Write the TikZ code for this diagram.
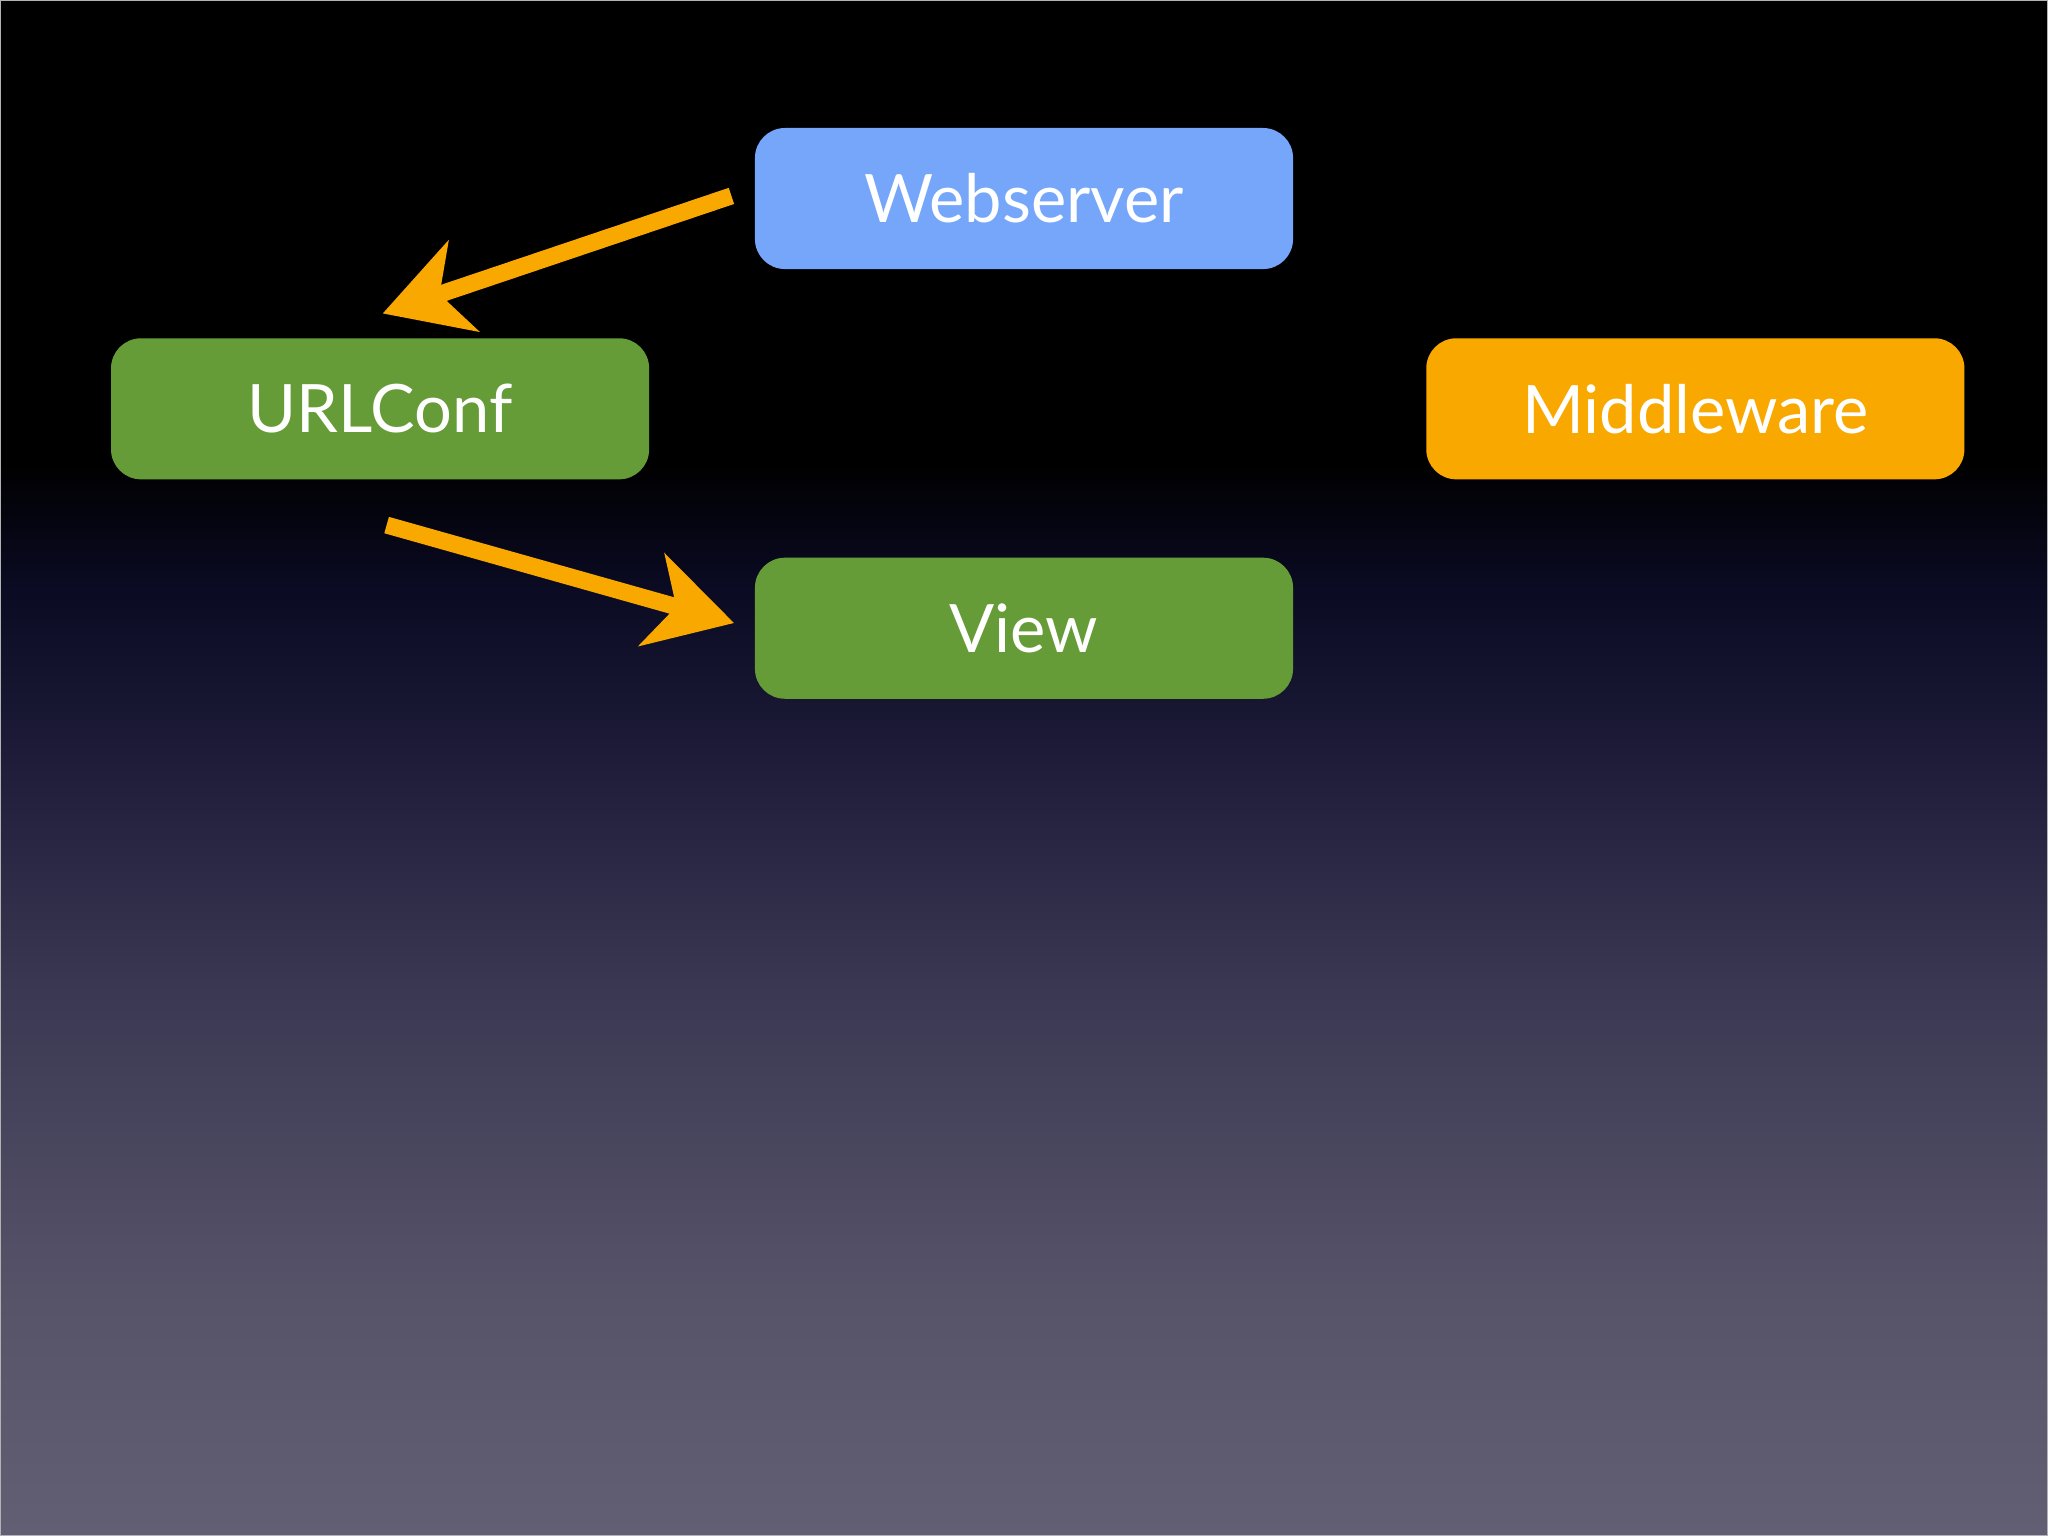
\documentclass[tikz,border=0pt]{standalone}
\usepackage{fontspec}
\setmainfont{Lato}
\usetikzlibrary{arrows.meta}
\definecolor{bgbot}{HTML}{625F74}
\definecolor{bgb2}{HTML}{57546A}
\definecolor{bgm2}{HTML}{3A3752}
\definecolor{bgmid}{HTML}{1F1D3A}
\definecolor{bgm1}{HTML}{0A0A22}
\definecolor{wsblue}{HTML}{75A6F9}
\definecolor{grn}{HTML}{669C37}
\definecolor{orng}{HTML}{F9A800}
\pgfdeclareverticalshading{bgshade}{100bp}{
  color(0bp)=(bgbot); color(25bp)=(bgbot); color(32.5bp)=(bgb2); color(43bp)=(bgm2); color(50bp)=(bgmid); color(56bp)=(bgm1); color(60bp)=(black); color(100bp)=(black)}
\begin{document}
\begin{tikzpicture}[x=0.01306cm,y=-0.01306cm,
  box/.style={minimum width=412*0.01306cm, minimum height=108*0.01306cm, rounded corners=0.3cm, inner sep=0, text=white, font=\fontsize{19}{22}\selectfont},
  arr/.style={draw=orng, line width=0.17cm, -{Stealth[length=0.85cm,width=0.95cm,inset=0.25cm]}}]
\useasboundingbox (0,0) rectangle (1568,1176);
\shade[shading=bgshade] (0,0) rectangle (1568,1176);
\draw[gray!60, line width=0.5pt] (0,0) rectangle (1568,1176);
\node[box, fill=wsblue] (web) at (784,152) {Webserver};
\node[box, fill=grn] (url) at (291,313) {URLConf};
\node[box, fill=orng] (mid) at (1298,313) {Middleware};
\node[box, fill=grn] (view) at (784,481) {View};
\coordinate (a1s) at (560,150);
\coordinate (a1e) at (293,240);
\coordinate (a2s) at (296,402);
\coordinate (a2e) at (562,477);
\draw[arr] (a1s) -- (a1e);
\draw[arr] (a2s) -- (a2e);
\end{tikzpicture}
\end{document}
